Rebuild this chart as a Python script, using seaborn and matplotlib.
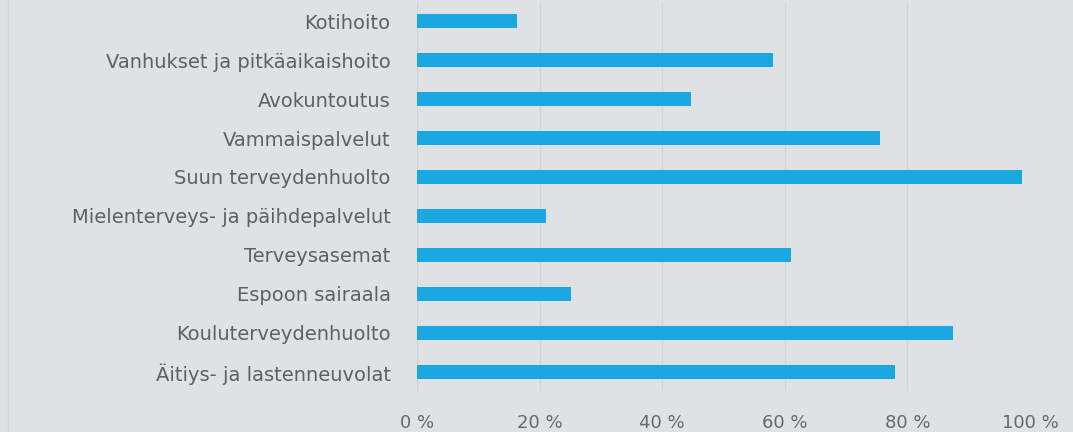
import matplotlib
matplotlib.use("Agg")
import matplotlib.pyplot as plt
from matplotlib.lines import Line2D
from matplotlib.ticker import FuncFormatter, MultipleLocator
import pandas as pd
import seaborn as sns

# Share of units (%) per service area
categories = [
    "Kotihoito",
    "Vanhukset ja pitkäaikaishoito",
    "Avokuntoutus",
    "Vammaispalvelut",
    "Suun terveydenhuolto",
    "Mielenterveys- ja päihdepalvelut",
    "Terveysasemat",
    "Espoon sairaala",
    "Kouluterveydenhuolto",
    "Äitiys- ja lastenneuvolat",
]
values = [16.3, 58.1, 44.7, 75.6, 98.7, 21.0, 61.0, 25.2, 87.5, 78.0]

df = pd.DataFrame({"palvelu": categories, "osuus": values})

BG = "#dfe2e5"
BAR = "#1ba8e0"
GRID = "#d0d3d7"
TEXT = "#5e6062"

sns.set_style("white")
plt.rcParams["font.family"] = ["DejaVu Sans"]

fig = plt.figure(figsize=(10.73, 4.32), dpi=100, facecolor=BG)
ax = fig.add_axes([0.3886, 0.0938, 0.5713, 0.9027])
ax.set_facecolor(BG)

sns.barplot(data=df, x="osuus", y="palvelu", orient="h", color=BAR,
            saturation=1, width=0.34, linewidth=0, edgecolor=BAR,
            ax=ax, zorder=3)

ax.set_xlim(0, 100)
ax.xaxis.set_major_locator(MultipleLocator(20))
ax.xaxis.set_major_formatter(FuncFormatter(lambda v, _: f"{v:.0f} %"))
ax.grid(axis="x", color=GRID, linewidth=1, zorder=0)
ax.grid(axis="y", visible=False)
ax.set_axisbelow(True)

for s in ax.spines.values():
    s.set_visible(False)

ax.set_xlabel("")
ax.set_ylabel("")
ax.tick_params(axis="y", length=0, labelsize=14, labelcolor=TEXT, pad=19)
ax.tick_params(axis="x", length=0, labelsize=13, labelcolor="#66686a", pad=16)

# thin frame line at the left edge
fig.add_artist(Line2D([8 / 1073, 8 / 1073], [0, 1], transform=fig.transFigure,
                      color="#d2d5d9", linewidth=1))

fig.savefig("out.png", dpi=100, facecolor=BG)
